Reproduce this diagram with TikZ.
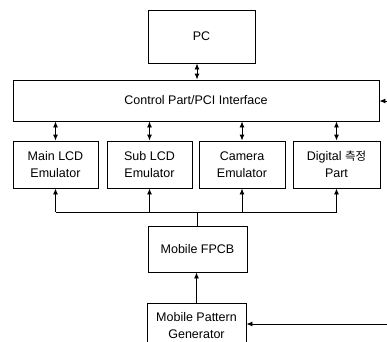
\documentclass[tikz,border=0pt]{standalone}
\usepackage{fontspec}
\setmainfont{Liberation Sans}
\newfontfamily\kofont{Noto Sans CJK KR}
\usetikzlibrary{arrows.meta,calc}
\tikzset{
  box/.style={draw=black, line width=0.9pt, rectangle, align=center, inner sep=0pt,
    font=\fontsize{12.5}{17}\selectfont},
  conn/.style={draw=black, line width=0.9pt},
  onearrow/.style={conn, -{Latex[length=6pt,width=5pt]}},
  twoarrow/.style={conn, {Latex[length=6pt,width=5pt]}-{Latex[length=6pt,width=5pt]}}
}
\begin{document}
\begin{tikzpicture}[x=1pt,y=-1pt]
\useasboundingbox (0,0) rectangle (387,341);
\clip (0,0) rectangle (387,341);
\node[box, minimum width=107pt, minimum height=53pt] (pc) at (201.5,36.5) {PC};
\node[box, minimum width=366pt, minimum height=41pt] (ctrl) at (196,100.5) {Control Part/PCI Interface};
\node[box, minimum width=85pt, minimum height=47pt] (e1) at (55.5,164.5) {Main LCD\\Emulator};
\node[box, minimum width=85pt, minimum height=47pt] (e2) at (149.5,164.5) {Sub LCD\\Emulator};
\node[box, minimum width=86pt, minimum height=47pt] (e3) at (242,164.5) {Camera\\Emulator};
\node[box, minimum width=87pt, minimum height=47pt] (e4) at (336.5,164.5) {Digital {\kofont\fontsize{11.5}{17}\selectfont 측정}\\Part};
\node[box, minimum width=99pt, minimum height=46pt] (fpcb) at (197.5,249) {Mobile FPCB};
\node[box, minimum width=99pt, minimum height=46pt] (gen) at (196.5,326) {Mobile Pattern\\Generator};
\coordinate (pcx) at ([xshift=-4.5pt]pc.south);
\draw[twoarrow] (pcx) -- (pcx |- ctrl.north);
\foreach \e in {e1,e2,e3,e4}{
  \draw[twoarrow] (\e.north |- ctrl.south) -- (\e.north);
}
\coordinate (bus) at (197,212);
\draw[conn] (e1.south |- bus) -- (e4.south |- bus);
\draw[conn] (fpcb.north) -- (fpcb.north |- bus);
\foreach \e in {e1,e2,e3,e4}{
  \draw[onearrow] (\e.south |- bus) -- (\e.south);
}
\draw[onearrow] (gen.north) -- (gen.north |- fpcb.south);
\coordinate (r1) at (388,101);
\draw[onearrow] (r1) -- (r1 -| ctrl.east);
\coordinate (r2) at (388,324);
\draw[onearrow] (r2) -- (r2 -| gen.east);
\end{tikzpicture}
\end{document}
